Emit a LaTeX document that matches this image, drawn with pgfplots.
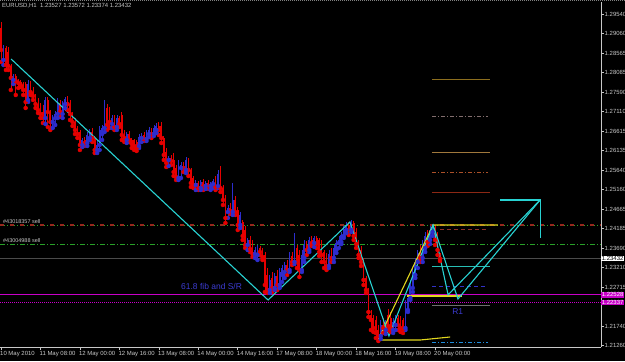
\documentclass[border=0pt]{standalone}
\usepackage{pgfplots}
\pgfplotsset{compat=1.18}
\usepackage{pgfplotstable}
\usepackage{fontspec}
\setmainfont{Liberation Sans}
\definecolor{bull}{RGB}{45,45,205}
\definecolor{bear}{RGB}{230,0,0}
\definecolor{cyanz}{RGB}{40,210,210}
\definecolor{yel}{RGB}{225,215,30}
\definecolor{magz}{RGB}{200,0,200}
\definecolor{gtxt}{RGB}{200,200,200}
\definecolor{grn}{RGB}{40,160,40}
\definecolor{dred}{RGB}{150,40,30}
\definecolor{curgray}{RGB}{75,75,75}
\definecolor{fibblue}{RGB}{60,60,210}
\newcommand\tf{\fontsize{6}{7}\selectfont}
\pgfplotstableread{
i o h l c
0 1.2920 1.2935 1.2835 1.2865
1 1.2840 1.28775 1.28275 1.2870
2 1.2870 1.2875 1.2815 1.28275
3 1.2860 1.28725 1.2815 1.2825
4 1.2825 1.2830 1.2765 1.2795
5 1.2790 1.2805 1.2780 1.2800
6 1.2800 1.2805 1.27525 1.27875
7 1.27875 1.27925 1.2770 1.27825
8 1.2785 1.2790 1.27725 1.27775
9 1.27775 1.2785 1.27525 1.2765
10 1.2780 1.2785 1.2720 1.2735
11 1.2740 1.2790 1.2735 1.2780
12 1.2780 1.27875 1.27525 1.2760
13 1.2760 1.27725 1.2740 1.2750
14 1.2750 1.2755 1.2720 1.2730
15 1.2730 1.2745 1.27075 1.2715
16 1.2725 1.27325 1.2695 1.2705
17 1.2710 1.27275 1.26825 1.2695
18 1.2695 1.27475 1.2680 1.2740
19 1.2740 1.27475 1.26725 1.2710
20 1.2710 1.2715 1.2665 1.2685
21 1.2685 1.27025 1.2670 1.2695
22 1.2695 1.27125 1.26775 1.2705
23 1.2705 1.2745 1.2695 1.27325
24 1.27325 1.2740 1.26975 1.2710
25 1.2705 1.27375 1.2695 1.2730
26 1.2730 1.27475 1.2720 1.27425
27 1.27425 1.2750 1.2715 1.2730
28 1.2730 1.2740 1.2690 1.2705
29 1.2705 1.2710 1.2675 1.2685
30 1.2685 1.2695 1.2655 1.2665
31 1.2670 1.2675 1.2645 1.2655
32 1.2660 1.2665 1.2615 1.26275
33 1.26275 1.2645 1.26225 1.2640
34 1.2640 1.26475 1.2625 1.26325
35 1.26325 1.2660 1.2625 1.26525
36 1.2645 1.26675 1.2640 1.2660
37 1.2660 1.2670 1.2635 1.2645
38 1.2645 1.2650 1.26075 1.2615
39 1.2615 1.2640 1.26075 1.26275
40 1.26275 1.2675 1.2615 1.2665
41 1.2655 1.26775 1.2640 1.2670
42 1.2670 1.2740 1.2660 1.2720
43 1.2720 1.2730 1.2665 1.26775
44 1.2715 1.27225 1.2670 1.2685
45 1.2680 1.27025 1.2670 1.2695
46 1.2695 1.27025 1.2665 1.26725
47 1.26725 1.27025 1.2665 1.2695
48 1.2695 1.2700 1.26725 1.2680
49 1.27025 1.2710 1.2640 1.26525
50 1.26525 1.2665 1.2635 1.2645
51 1.2640 1.2660 1.26325 1.2655
52 1.2655 1.26625 1.2635 1.2640
53 1.2640 1.2645 1.2620 1.2630
54 1.2640 1.26425 1.2615 1.2625
55 1.2635 1.2640 1.26125 1.2620
56 1.2625 1.2655 1.2620 1.26475
57 1.2645 1.26575 1.2635 1.26525
58 1.26525 1.2660 1.26375 1.26425
59 1.26425 1.2665 1.26375 1.2660
60 1.2655 1.26725 1.26475 1.2665
61 1.2665 1.2670 1.2645 1.2655
62 1.2655 1.26775 1.2650 1.2670
63 1.2665 1.26825 1.26575 1.2675
64 1.2675 1.2685 1.26525 1.2665
65 1.2675 1.2685 1.26325 1.2645
66 1.2645 1.2650 1.2590 1.26025
67 1.2610 1.2620 1.25725 1.25825
68 1.2590 1.2600 1.2575 1.2595
69 1.2595 1.26025 1.25775 1.25875
70 1.2590 1.26075 1.2550 1.2560
71 1.2570 1.25775 1.2540 1.25475
72 1.2545 1.2590 1.2540 1.2580
73 1.2570 1.2585 1.2545 1.25775
74 1.25775 1.2585 1.2560 1.2570
75 1.2565 1.25975 1.25575 1.2590
76 1.2590 1.2595 1.2550 1.2565
77 1.2565 1.2570 1.25225 1.25325
78 1.2545 1.2550 1.2520 1.25275
79 1.25275 1.2540 1.2515 1.25325
80 1.25325 1.25375 1.2515 1.2520
81 1.2520 1.2540 1.2515 1.2535
82 1.2535 1.25425 1.2515 1.2525
83 1.2525 1.25375 1.25175 1.25325
84 1.25325 1.2540 1.25175 1.2525
85 1.2525 1.2535 1.2515 1.2530
86 1.2530 1.25425 1.2520 1.25375
87 1.25375 1.2550 1.2515 1.25225
88 1.2525 1.2565 1.2520 1.2555
89 1.2555 1.2575 1.2510 1.2520
90 1.2520 1.25275 1.24775 1.2490
91 1.2495 1.25025 1.24325 1.2445
92 1.2460 1.24775 1.2445 1.2470
93 1.2470 1.24825 1.2455 1.24625
94 1.2460 1.25325 1.24525 1.2490
95 1.2490 1.2500 1.24525 1.2460
96 1.2465 1.24725 1.2415 1.24275
97 1.24275 1.2460 1.2420 1.24525
98 1.2435 1.2440 1.2390 1.2400
99 1.2415 1.2425 1.2370 1.23775
100 1.23775 1.2395 1.2365 1.2390
101 1.2390 1.2400 1.2360 1.23675
102 1.2375 1.2390 1.23475 1.2355
103 1.2355 1.23725 1.2345 1.2365
104 1.23525 1.23775 1.2340 1.2370
105 1.2370 1.2375 1.23525 1.2360
106 1.2365 1.2370 1.2340 1.23475
107 1.23525 1.2360 1.2260 1.22775
108 1.23025 1.2320 1.22575 1.2265
109 1.2265 1.23025 1.22575 1.2290
110 1.2295 1.2310 1.2260 1.2270
111 1.2270 1.23075 1.2265 1.2300
112 1.2300 1.2315 1.2265 1.22775
113 1.22775 1.2320 1.2270 1.2310
114 1.23025 1.23275 1.2285 1.2320
115 1.2310 1.2335 1.2295 1.23275
116 1.23275 1.2340 1.23025 1.2315
117 1.2315 1.2360 1.2310 1.2350
118 1.2350 1.2360 1.23275 1.2335
119 1.2335 1.24075 1.2330 1.2370
120 1.2370 1.23775 1.2320 1.2335
121 1.23525 1.2365 1.22975 1.2315
122 1.2315 1.2365 1.2310 1.23525
123 1.2345 1.2390 1.2335 1.23775
124 1.23775 1.23875 1.23525 1.2365
125 1.2365 1.23975 1.2360 1.2390
126 1.2390 1.2400 1.2375 1.23825
127 1.23825 1.2400 1.23725 1.2395
128 1.2395 1.2400 1.2370 1.2380
129 1.2390 1.2395 1.2350 1.2360
130 1.2380 1.2390 1.2335 1.23525
131 1.2360 1.2365 1.2320 1.2335
132 1.23525 1.23575 1.2315 1.2325
133 1.2325 1.2365 1.2320 1.2355
134 1.2355 1.2370 1.2335 1.2345
135 1.2345 1.23775 1.2335 1.2370
136 1.2365 1.2390 1.23575 1.23825
137 1.23825 1.2400 1.2370 1.2390
138 1.2385 1.2410 1.2380 1.24025
139 1.2400 1.2425 1.2395 1.24175
140 1.2415 1.2435 1.24075 1.24275
141 1.24275 1.2435 1.24025 1.2415
142 1.2415 1.2440 1.2410 1.24325
143 1.24325 1.24375 1.2390 1.2400
144 1.2410 1.2420 1.2370 1.2380
145 1.2380 1.2390 1.2345 1.23525
146 1.2365 1.2375 1.2325 1.2335
147 1.2340 1.2345 1.22775 1.2290
148 1.2295 1.2300 1.22575 1.2265
149 1.2265 1.2270 1.21975 1.2210
150 1.22025 1.2215 1.2165 1.2190
151 1.2195 1.22025 1.2160 1.2170
152 1.2190 1.2200 1.2145 1.21575
153 1.2165 1.21775 1.21375 1.2150
154 1.2150 1.2190 1.21425 1.21775
155 1.21775 1.2195 1.21575 1.2170
156 1.2165 1.2190 1.2155 1.21825
157 1.22025 1.22175 1.2165 1.2175
158 1.2195 1.2210 1.2160 1.2170
159 1.2165 1.2195 1.21575 1.2185
160 1.21775 1.22025 1.2165 1.2195
161 1.2195 1.22025 1.2165 1.21775
162 1.2195 1.2200 1.2160 1.2170
163 1.2190 1.2195 1.21575 1.21675
164 1.2170 1.2240 1.2165 1.22275
165 1.2215 1.22525 1.2210 1.2245
166 1.2245 1.2290 1.2240 1.22775
167 1.2270 1.2320 1.2260 1.2310
168 1.23025 1.2345 1.2295 1.2335
169 1.2335 1.2365 1.2320 1.23575
170 1.23575 1.23775 1.2335 1.2345
171 1.2345 1.2390 1.2335 1.2380
172 1.2370 1.2410 1.2360 1.2400
173 1.2395 1.2415 1.2375 1.2385
174 1.2390 1.2425 1.2380 1.2415
175 1.2410 1.2430 1.2400 1.2420
176 1.2420 1.24275 1.23775 1.2390
177 1.2400 1.2410 1.23525 1.2365
178 1.23527 1.23572 1.23374 1.23432
}\candles
\begin{document}
\begin{tikzpicture}[x=1bp,y=1bp]
\useasboundingbox (0,0) rectangle (625,361);
\fill[black] (0,0) rectangle (625,361);
\draw[gray, line width=1bp, dash pattern=on 1bp off 1bp] (0,360.5) -- (625,360.5);
\begin{axis}[
  at={(0,14bp)}, anchor=south west, scale only axis,
  width=601bp, height=345bp,
  xmin=-0.4, xmax=243.3, ymin=1.21225, ymax=1.2985,
  clip=false,
  axis x line*=bottom, axis y line*=right,
  axis line style={draw=gtxt, line width=0.8bp},
  tick style={draw=gtxt, line width=0.5bp},
  major tick length=3bp, tick align=outside,
  xtick={0,16,32,48,64,80,96,112,128,144,160,176},
  xticklabels={10 May 2010,11 May 08:00,12 May 00:00,12 May 16:00,13 May 08:00,14 May 00:00,14 May 16:00,17 May 08:00,18 May 00:00,18 May 16:00,19 May 08:00,20 May 00:00},
  xticklabel style={font=\tf, text=gtxt, anchor=north west, inner sep=0.5bp, xshift=-1.5bp, yshift=-0.5bp},
  ytick={1.29540,1.29060,1.28565,1.28085,1.27590,1.27110,1.26615,1.26135,1.25640,1.25160,1.24665,1.24185,1.23690,1.23210,1.22715,1.21740,1.21260},
  yticklabels={1.29540,1.29060,1.28565,1.28085,1.27590,1.27110,1.26615,1.26135,1.25640,1.25160,1.24665,1.24185,1.23690,1.23210,1.22715,1.21740,1.21260},
  yticklabel style={font=\tf, text=gtxt, anchor=west, inner sep=0.5bp},
]
% full-width level lines
\addplot[grn, line width=0.8bp, dash pattern=on 5bp off 2bp on 1bp off 2bp] coordinates {(-0.4,1.24275) (243.3,1.24275)};
\addplot[dred, line width=1.2bp, dash pattern=on 4bp off 6bp] coordinates {(-0.4,1.24275) (243.3,1.24275)};
\addplot[grn, line width=0.8bp, dash pattern=on 5bp off 2bp on 1bp off 2bp] coordinates {(-0.4,1.2380) (243.3,1.2380)};
\addplot[curgray, line width=1.3bp] coordinates {(-0.4,1.23432) (243.3,1.23432)};
\addplot[magz, line width=0.9bp] coordinates {(-0.4,1.22528) (243.3,1.22528)};
\addplot[magz, line width=0.9bp, dash pattern=on 1bp off 1bp] coordinates {(-0.4,1.22337) (243.3,1.22337)};
% candles: wicks
\addplot[bear, only marks, mark=none, forget plot, restrict expr to domain={\thisrow{o}-\thisrow{c}}{0:1},
  error bars/.cd, y dir=plus, y explicit, error mark=none, error bar style={bear, line width=0.7bp}]
  table[x=i, y=l, y error expr=\thisrow{h}-\thisrow{l}]{\candles};
\addplot[bull, only marks, mark=none, forget plot, restrict expr to domain={\thisrow{c}-\thisrow{o}}{0.000001:1},
  error bars/.cd, y dir=plus, y explicit, error mark=none, error bar style={bull, line width=0.7bp}]
  table[x=i, y=l, y error expr=\thisrow{h}-\thisrow{l}]{\candles};
% candles: bodies
\addplot[bear, only marks, mark=none, forget plot, restrict expr to domain={\thisrow{o}-\thisrow{c}}{0:1},
  error bars/.cd, y dir=plus, y explicit, error mark=none, error bar style={bear, line width=1.8bp}]
  table[x=i, y=c, y error expr=\thisrow{o}-\thisrow{c}]{\candles};
\addplot[bull, only marks, mark=none, forget plot, restrict expr to domain={\thisrow{c}-\thisrow{o}}{0.000001:1},
  error bars/.cd, y dir=plus, y explicit, error mark=none, error bar style={bull, line width=1.8bp}]
  table[x=i, y=o, y error expr=\thisrow{c}-\thisrow{o}]{\candles};
% short levels on the right
\addplot[draw={rgb,255:red,140;green,110;blue,30}, line width=1bp] coordinates {(174.8,1.2790) (198.3,1.2790)};
\addplot[draw={rgb,255:red,130;green,110;blue,110}, line width=1bp, dash pattern=on 4bp off 2bp on 1bp off 2bp] coordinates {(174.8,1.26975) (197.5,1.26975)};
\addplot[draw={rgb,255:red,160;green,120;blue,60}, line width=1bp] coordinates {(174.8,1.26075) (198.3,1.26075)};
\addplot[draw={rgb,255:red,170;green,80;blue,40}, line width=1bp, dash pattern=on 4bp off 2bp on 1bp off 2bp] coordinates {(174.8,1.25575) (197.5,1.25575)};
\addplot[draw={rgb,255:red,140;green,40;blue,20}, line width=1bp] coordinates {(174.8,1.25075) (198.3,1.25075)};
\addplot[draw={rgb,255:red,140;green,50;blue,40}, line width=1bp, dash pattern=on 4bp off 3bp] coordinates {(178.0,1.2417) (197.5,1.2417)};
\addplot[draw={rgb,255:red,40;green,190;blue,180}, line width=0.9bp] coordinates {(174.8,1.2325) (198.3,1.2325)};
\addplot[draw={rgb,255:red,50;green,50;blue,200}, line width=1bp, dash pattern=on 4bp off 3bp] coordinates {(174.8,1.2275) (197.5,1.2275)};
\addplot[draw={rgb,255:red,110;green,110;blue,110}, line width=1bp] coordinates {(174.8,1.22275) (198.3,1.22275)};
\addplot[draw={rgb,255:red,30;green,140;blue,220}, line width=1bp, dash pattern=on 4bp off 2bp on 1bp off 2bp] coordinates {(174.8,1.2135) (197.5,1.2135)};
% yellow pattern
\addplot[yel, line width=1.1bp] coordinates {(152.9,1.2140) (175.2,1.24275) (201.5,1.24275)};
\addplot[yel, line width=1.1bp] coordinates {(164.6,1.2250) (187.0,1.2250)};
\addplot[yel, line width=1.1bp] coordinates {(152.9,1.2140) (170.0,1.2140) (182.1,1.21475)};
% cyan zigzags
\addplot[cyanz, line width=1.1bp] coordinates {(4.1,1.28425) (108.3,1.2240) (141.5,1.2435) (157.3,1.2150) (175.2,1.24275) (185.3,1.22425) (218.6,1.2490)};
\addplot[cyanz, line width=1.1bp] coordinates {(175.2,1.24275) (181.3,1.2253) (218.6,1.2490)};
\addplot[cyanz, line width=1.1bp] coordinates {(202.4,1.2490) (218.6,1.2490) (218.6,1.2395)};
% texts
\node[anchor=west, text=gtxt, font=\tf, inner sep=0pt] at (axis cs:0.4,1.2975) {EURUSD,H1\ \ 1.23527 1.23572 1.23374 1.23432};
\node[anchor=west, text=gtxt, font=\fontsize{5.5}{6}\selectfont, inner sep=0pt] at (axis cs:0.8,1.2436) {\#43018357 sell};
\node[anchor=west, text=gtxt, font=\fontsize{5.5}{6}\selectfont, inner sep=0pt] at (axis cs:0.8,1.23885) {\#43004988 sell};
\node[anchor=west, text=fibblue, font=\fontsize{8.5}{9}\selectfont, inner sep=0pt] at (axis cs:73.0,1.2273) {61.8 fib and S/R};
\node[anchor=west, text=fibblue, font=\fontsize{8.5}{9}\selectfont, inner sep=0pt] at (axis cs:182.9,1.2211) {R1};
\node[anchor=west, fill=white, text=black, font=\tf, inner sep=0.6bp] at (axis cs:243.3,1.23432) {1.23432};
\node[anchor=west, fill=magz, text=white, font=\tf, inner sep=0.6bp] at (axis cs:243.3,1.22528) {1.22528};
\node[anchor=west, fill=magz, text=white, font=\tf, inner sep=0.6bp] at (axis cs:243.3,1.22337) {1.22337};
\end{axis}
\end{tikzpicture}
\end{document}
